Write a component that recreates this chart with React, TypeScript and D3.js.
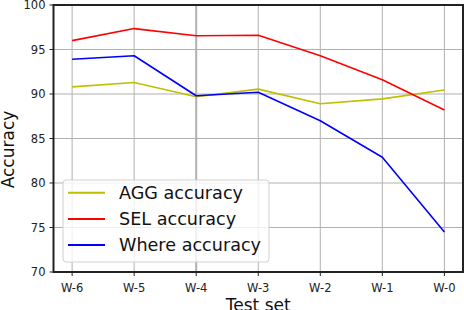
import * as d3 from 'd3';

const W = 464;
const H = 310;
const MARGIN = { left: 53.5, right: 463, top: 5, bottom: 272 };

const categories = ['W-6', 'W-5', 'W-4', 'W-3', 'W-2', 'W-1', 'W-0'];
const aggAccuracy = [90.8, 91.3, 89.7, 90.55, 88.9, 89.45, 90.45];
const selAccuracy = [96.0, 97.35, 96.55, 96.6, 94.3, 91.6, 88.2];
const whereAccuracy = [93.9, 94.3, 89.8, 90.2, 87.0, 82.9, 74.5];
const yTicks = [70, 75, 80, 85, 90, 95, 100];

const series = [
  { name: 'AGG accuracy', color: '#bfbf00', values: aggAccuracy },
  { name: 'SEL accuracy', color: '#ff0000', values: selAccuracy },
  { name: 'Where accuracy', color: '#0000ff', values: whereAccuracy },
];

const FONT = 'DejaVu Sans';

export default function App() {
  const x = d3
    .scaleLinear()
    .domain([-0.3, categories.length - 1 + 0.3])
    .range([MARGIN.left, MARGIN.right]);
  const y = d3.scaleLinear().domain([70, 100]).range([MARGIN.bottom, MARGIN.top]);

  const line = d3
    .line<number>()
    .x((_, i) => x(i))
    .y((d) => y(d));

  return (
    <svg
      width={W}
      height={H}
      style={{ position: 'absolute', left: 0, top: 0, background: '#fff' }}
      fontFamily={FONT}
    >
      {/* grid */}
      {categories.map((c, i) => (
        <line
          key={'gx' + c}
          x1={x(i)}
          x2={x(i)}
          y1={MARGIN.top}
          y2={MARGIN.bottom}
          stroke="#b0b0b0"
          strokeWidth={c === 'W-4' ? 2 : 1}
        />
      ))}
      {yTicks.map((t) => (
        <line
          key={'gy' + t}
          x1={MARGIN.left}
          x2={MARGIN.right}
          y1={y(t)}
          y2={y(t)}
          stroke="#b0b0b0"
          strokeWidth={1}
        />
      ))}

      {/* series */}
      {series.map((s) => (
        <path
          key={s.name}
          d={line(s.values)!}
          fill="none"
          stroke={s.color}
          strokeWidth={1.6}
          strokeLinejoin="round"
        />
      ))}

      {/* spines */}
      <rect
        x={MARGIN.left}
        y={MARGIN.top}
        width={MARGIN.right - MARGIN.left}
        height={MARGIN.bottom - MARGIN.top}
        fill="none"
        stroke="#222"
        strokeWidth={2}
      />

      {/* y ticks */}
      {yTicks.map((t) => (
        <g key={'ty' + t}>
          <line x1={MARGIN.left - 4} x2={MARGIN.left} y1={y(t)} y2={y(t)} stroke="#222" strokeWidth={1} />
          <text x={MARGIN.left - 8} y={y(t)} dy="0.36em" textAnchor="end" fontSize={11.5} fill="#222">
            {t}
          </text>
        </g>
      ))}

      {/* x ticks */}
      {categories.map((c, i) => (
        <g key={'tx' + c}>
          <line x1={x(i)} x2={x(i)} y1={MARGIN.bottom} y2={MARGIN.bottom + 4} stroke="#222" strokeWidth={1} />
          <text x={x(i)} y={MARGIN.bottom + 20} textAnchor="middle" fontSize={11.5} fill="#222">
            {c}
          </text>
        </g>
      ))}

      {/* axis labels */}
      <text x={(MARGIN.left + MARGIN.right) / 2} y={311} textAnchor="middle" fontSize={17} fill="#111">
        Test set
      </text>
      <text
        transform={`translate(13.5,${(MARGIN.top + MARGIN.bottom) / 2 + 11}) rotate(-90)`}
        textAnchor="middle"
        fontSize={17}
        fill="#111"
      >
        Accuracy
      </text>

      {/* legend */}
      <rect x={63} y={180} width={206} height={82} rx={3} fill="#fff" fillOpacity={0.8} stroke="#d0d0d0" strokeWidth={1} />
      {series.map((s, i) => (
        <g key={'lg' + s.name} transform={`translate(0,${192.7 + i * 26.2})`}>
          <line x1={68} x2={105} y1={0} y2={0} stroke={s.color} strokeWidth={2} />
          <text x={119} y={0} dy="0.36em" fontSize={17.6} fill="#111">
            {s.name}
          </text>
        </g>
      ))}
    </svg>
  );
}
